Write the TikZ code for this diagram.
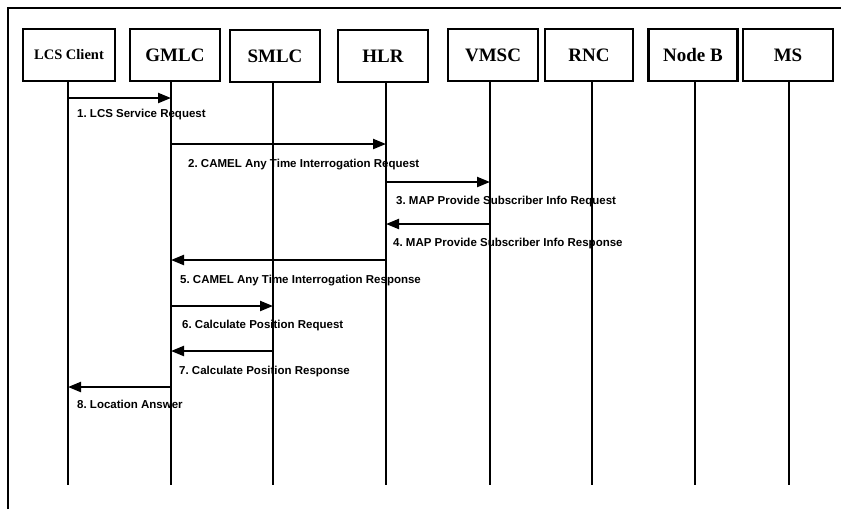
\documentclass[tikz,border=0pt]{standalone}
\usepackage{fontspec}
\setmainfont{Liberation Serif}
\newfontfamily\msgfont{Liberation Sans}
\usetikzlibrary{arrows.meta}
\begin{document}
\frenchspacing
\begin{tikzpicture}[x=1pt,y=-1pt,
  entity/.style={draw, line width=2.8pt, minimum width=90pt, minimum height=52pt,
    inner sep=0pt, font=\fontsize{19}{19}\selectfont\bfseries},
  life/.style={line width=2.2pt},
  msg/.style={line width=2.2pt, -{Triangle[length=13pt,width=10pt]}},
  lbl/.style={anchor=base west, inner sep=0pt, font=\msgfont\fontsize{11.5}{12}\selectfont\bfseries}]
\useasboundingbox (0,0) rectangle (841,509);

% frame
\draw[line width=1.6pt] (8,509) -- (8,8) -- (841,8);

% entities
\node[entity, minimum width=92pt, font=\fontsize{14.5}{15}\selectfont\bfseries] (lcs) at (69,55) {LCS Client};
\node[entity] (gmlc) at (175,55) {GMLC};
\node[entity] (smlc) at (275,56) {SMLC};
\node[entity] (hlr)  at (383,56) {HLR};
\node[entity] (vmsc) at (493,55) {VMSC};
\node[entity, minimum width=88pt] (rnc)  at (589,55) {RNC};
\node[entity, minimum width=89pt] (nodeb) at (693,55) {Node B};
\node[entity] (ms)   at (788,55) {MS};

% lifeline feet
\coordinate (lcsL)   at (68,485);
\coordinate (gmlcL)  at (171,485);
\coordinate (smlcL)  at (273,485);
\coordinate (hlrL)   at (386,485);
\coordinate (vmscL)  at (490,485);
\coordinate (rncL)   at (592,485);
\coordinate (nodebL) at (695,485);
\coordinate (msL)    at (789,485);

\foreach \e in {lcs,gmlc,smlc,hlr,vmsc,rnc,nodeb,ms}
  \draw[life] (\e.south -| \e L) -- (\e L);

% message rows
\coordinate (r1) at (0,98);
\coordinate (r2) at (0,144);
\coordinate (r3) at (0,182);
\coordinate (r4) at (0,224);
\coordinate (r5) at (0,260);
\coordinate (r6) at (0,306);
\coordinate (r7) at (0,351);
\coordinate (r8) at (0,387);

% messages
\draw[msg] (lcsL |- r1) -- (gmlcL |- r1);
\draw[msg] (gmlcL |- r2) -- (hlrL |- r2);
\draw[msg] (hlrL |- r3) -- (vmscL |- r3);
\draw[msg] (vmscL |- r4) -- (hlrL |- r4);
\draw[msg] (hlrL |- r5) -- (gmlcL |- r5);
\draw[msg] (gmlcL |- r6) -- (smlcL |- r6);
\draw[msg] (smlcL |- r7) -- (gmlcL |- r7);
\draw[msg] (gmlcL |- r8) -- (lcsL |- r8);

% message labels
\node[lbl] (t1) at (77,117) {1. LCS Service Request};
\node[lbl] (t2) at (188,167) {2. CAMEL Any Time Interrogation Request};
\node[lbl] (t3) at (396,204) {3. MAP Provide Subscriber Info Request};
\node[lbl] (t4) at (393,246) {4. MAP Provide Subscriber Info Response};
\node[lbl] (t5) at (180,283) {5. CAMEL Any Time Interrogation Response};
\node[lbl] (t6) at (182,328) {6. Calculate Position Request};
\node[lbl] (t7) at (179,374) {7. Calculate Position Response};
\node[lbl] (t8) at (77,408) {8. Location Answer};
\end{tikzpicture}
\end{document}
